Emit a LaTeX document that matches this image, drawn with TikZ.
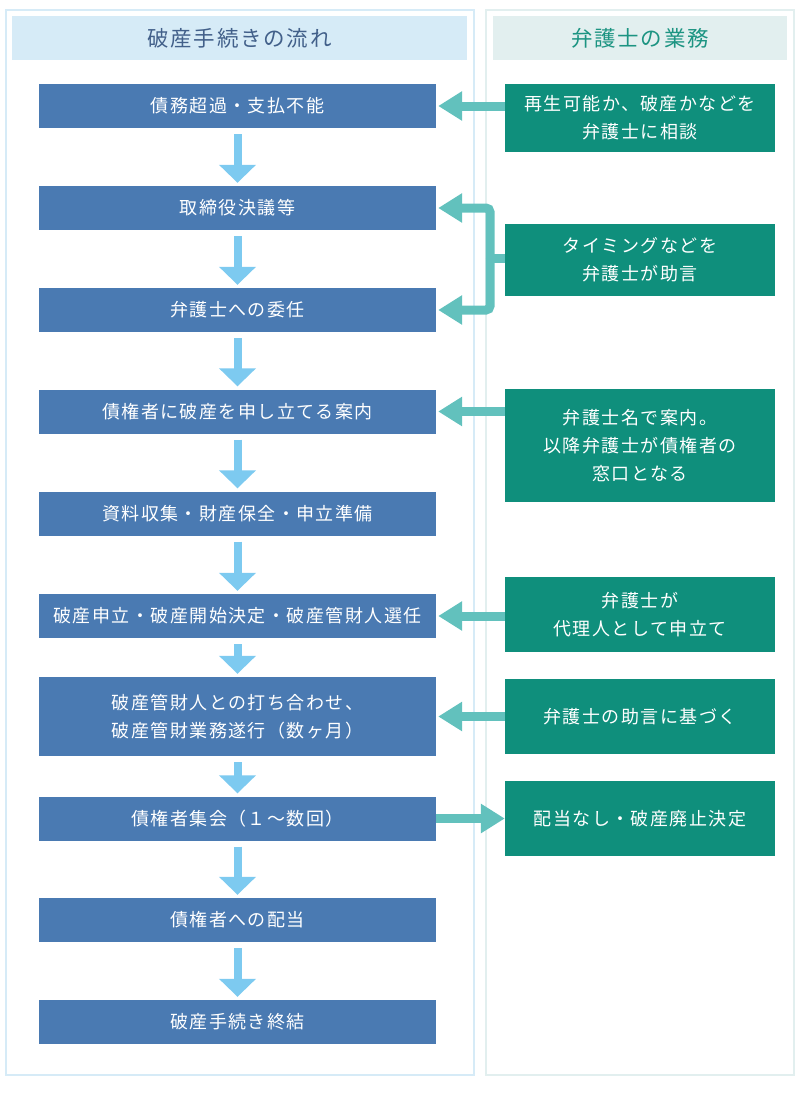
\documentclass[tikz,border=0pt]{standalone}
\usepackage{fontspec}
\setmainfont{Noto Sans CJK JP}[LetterSpace=8]
\usetikzlibrary{arrows.meta}

\definecolor{flowblue}{HTML}{4A7AB2}
\definecolor{taskteal}{HTML}{0F8F7C}
\definecolor{downblue}{HTML}{7DCAF0}
\definecolor{sideteal}{HTML}{62C1BD}
\definecolor{leftframe}{HTML}{D6EBF7}
\definecolor{rightframe}{HTML}{E2EFEF}
\definecolor{lefttext}{HTML}{42608A}
\definecolor{righttext}{HTML}{1C9482}

\tikzset{
    flowbox/.style={fill=flowblue, text=white, minimum width=397pt,
        minimum height=44pt, inner sep=0pt, align=center,
        font=\fontsize{18}{28}\selectfont},
    taskbox/.style={fill=taskteal, text=white, minimum width=270pt,
        inner sep=0pt, align=center, font=\fontsize{18}{28}\selectfont},
    headbox/.style={minimum height=44pt, inner sep=0pt,
        font=\fontsize{21.5}{24}\selectfont},
    downarrow/.style={draw=downblue, line width=8pt,
        -{Triangle[width=36pt,length=18pt]}},
    sidearrow/.style={draw=sideteal, line width=9pt,
        -{Triangle[width=28pt,length=24pt]}}
}

\begin{document}
\begin{tikzpicture}[x=1pt, y=-1pt]
    \useasboundingbox (0,0) rectangle (800,1100);

    \draw[leftframe, line width=1.5pt] (6,10) rectangle (474,1075);
    \draw[rightframe, line width=1.5pt] (486,10) rectangle (794,1075);

    \node[headbox, fill=leftframe, text=lefttext, minimum width=455pt]
        (lefthead) at (239.5,38) {破産手続きの流れ};
    \node[headbox, fill=rightframe, text=righttext, minimum width=294pt]
        (righthead) at (640,38) {弁護士の業務};

    \node[flowbox] (b1) at (237.5,106) {債務超過・支払不能};
    \node[flowbox] (b2) at (237.5,208) {取締役決議等};
    \node[flowbox] (b3) at (237.5,310) {弁護士への委任};
    \node[flowbox] (b4) at (237.5,411.5) {債権者に破産を申し立てる案内};
    \node[flowbox] (b5) at (237.5,513.5) {資料収集・財産保全・申立準備};
    \node[flowbox] (b6) at (237.5,616) {破産申立・破産開始決定・破産管財人選任};
    \node[flowbox, minimum height=79pt] (b7) at (237.5,716.5)
        {破産管財人との打ち合わせ、\\破産管財業務遂行（数ヶ月）};
    \node[flowbox] (b8) at (237.5,818.5) {債権者集会（１～数回）};
    \node[flowbox] (b9) at (237.5,920) {債権者への配当};
    \node[flowbox] (b10) at (237.5,1022) {破産手続き終結};

    \node[taskbox, minimum height=68pt] (r1) at (640,118)
        {再生可能か、破産かなどを\\弁護士に相談};
    \node[taskbox, minimum height=72pt] (r2) at (640,260)
        {タイミングなどを\\弁護士が助言};
    \node[taskbox, minimum height=113pt] (r3) at (640,445.5)
        {弁護士名で案内。\\以降弁護士が債権者の\\窓口となる};
    \node[taskbox, minimum height=75pt] (r4) at (640,614.5)
        {弁護士が\\代理人として申立て};
    \node[taskbox, minimum height=75pt] (r5) at (640,716.5)
        {弁護士の助言に基づく};
    \node[taskbox, minimum height=75pt] (r6) at (640,818.5)
        {配当なし・破産廃止決定};

    \draw[downarrow] ([yshift=-6pt]b1.south) -- ([yshift=3pt]b2.north);
    \draw[downarrow] ([yshift=-6pt]b2.south) -- ([yshift=3pt]b3.north);
    \draw[downarrow] ([yshift=-6pt]b3.south) -- ([yshift=3pt]b4.north);
    \draw[downarrow] ([yshift=-6pt]b4.south) -- ([yshift=3pt]b5.north);
    \draw[downarrow] ([yshift=-6pt]b5.south) -- ([yshift=3pt]b6.north);
    \draw[downarrow] ([yshift=-6pt]b6.south) -- ([yshift=3pt]b7.north);
    \draw[downarrow] ([yshift=-6pt]b7.south) -- ([yshift=3pt]b8.north);
    \draw[downarrow] ([yshift=-6pt]b8.south) -- ([yshift=3pt]b9.north);
    \draw[downarrow] ([yshift=-6pt]b9.south) -- ([yshift=3pt]b10.north);

    \coordinate (split) at (490,258);
    \draw[sidearrow] (r1.west |- b1.east) -- ([xshift=2pt]b1.east);
    \draw[draw=sideteal, line width=9pt] (r2.west |- split) -- (split);
    \draw[sidearrow, rounded corners=4pt] (split) |- ([xshift=2pt]b2.east);
    \draw[sidearrow, rounded corners=4pt] (split) |- ([xshift=2pt]b3.east);
    \draw[sidearrow] (r3.west |- b4.east) -- ([xshift=2pt]b4.east);
    \draw[sidearrow] (r4.west |- b6.east) -- ([xshift=2pt]b6.east);
    \draw[sidearrow] (r5.west) -- ([xshift=2pt]b7.east);
    \draw[sidearrow] (b8.east) -- (r6.west);
\end{tikzpicture}
\end{document}
